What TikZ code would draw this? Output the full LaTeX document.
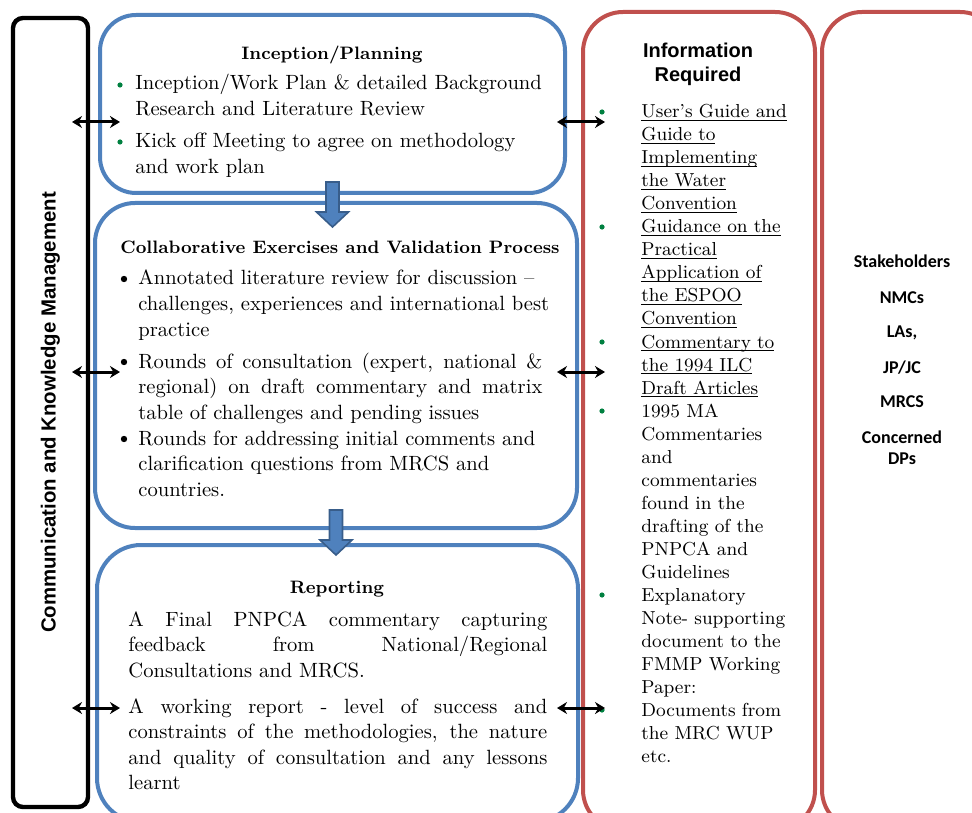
\documentclass[tikz,border=0pt]{standalone}
\usepackage{fontspec}
\usepackage{tikz}
\usetikzlibrary{arrows.meta, positioning, fit, calc}
\newfontfamily\headsans{Liberation Sans}
\newfontfamily\calsans{Carlito}
\definecolor{phaseblue}{RGB}{79,129,189}
\definecolor{arrowblue}{RGB}{56,93,138}
\definecolor{infored}{RGB}{192,80,77}
\definecolor{bulgreen}{RGB}{0,128,64}
\newcommand{\jline}[2][209.5pt]{{\spaceskip=0pt\xspaceskip=0pt\makebox[#1][s]{#2}}}
\newcommand{\uln}[1]{\underline{\smash{#1}}}
\tikzset{
    phasebox/.style={draw=phaseblue, line width=2pt, inner sep=0pt, outer sep=0pt},
    infobox/.style={draw=infored, line width=2pt, rounded corners=20pt, inner sep=0pt, outer sep=0pt},
    commbox/.style={draw=black, line width=2.2pt, rounded corners=5pt, inner sep=0pt, outer sep=0pt},
    phtitle/.style={font=\fontsize{9pt}{11pt}\selectfont\bfseries, inner sep=0pt, anchor=base},
    bodytext/.style={font=\fontsize{10.3pt}{12.8pt}\selectfont, inner sep=0pt, anchor=base west, align=left, text width=230pt},
    infotext/.style={font=\fontsize{9.4pt}{11.5pt}\selectfont, inner sep=0pt, anchor=base west, align=left, text width=90pt},
    gdot/.style={circle, fill=bulgreen, inner sep=0pt, minimum size=2.6pt},
    bdot/.style={circle, fill=black, inner sep=0pt, minimum size=3.2pt},
    dblarrow/.style={{Stealth[length=5pt,width=6pt]}-{Stealth[length=5pt,width=6pt]}, line width=1.5pt},
    blockarrow/.style={fill=phaseblue, draw=arrowblue, line width=0.8pt, line join=miter}
}
\begin{document}
\begin{tikzpicture}[x=0.5pt, y=-0.5pt]
    \clip (0,0) rectangle (972,812);

    % Side bar and right columns
    \node[commbox, fit={(13,18) (88,807)}] (comm) {};
    \node[rotate=90, inner sep=0pt, font=\headsans\bfseries\fontsize{10.2pt}{12pt}\selectfont] (commlabel) at (comm.center) {Communication and Knowledge Management};
    \node[infobox, fit={(583,12) (815,830)}] (info) {};
    \node[infobox, fit={(822,12) (1000,830)}] (stake) {};

    % Phase boxes
    \node[phasebox, rounded corners=18pt, fit={(100,15) (565,193)}] (inc) {};
    \node[phasebox, rounded corners=20pt, fit={(95,203) (577,528)}] (col) {};
    \node[phasebox, rounded corners=22pt, fit={(97,545) (578,822)}] (rep) {};

    % Inception/Planning
    \node[phtitle] (inctitle) at (332,60) {Inception/Planning};
    \node[gdot] (incdot1) at (120,85) {};
    \node[bodytext] (inc1) at (135,90) {Inception/Work Plan \& detailed Background\\Research and Literature Review};
    \node[gdot] (incdot2) at (120,142) {};
    \node[bodytext] (inc2) at (135,148) {Kick off Meeting to agree on methodology\\and work plan};

    % Collaborative Exercises
    \node[phtitle] (coltitle) at (340,254) {Collaborative Exercises and Validation Process};
    \node[bdot] (coldot1) at (124,279) {};
    \node[bodytext] (col1) at (138,285) {Annotated literature review for discussion --\\challenges, experiences and international best\\practice};
    \node[bdot] (coldot2) at (124,362) {};
    \node[bodytext] (col2) at (138,368) {\jline[202pt]{Rounds of consultation (expert, national \&}\\\jline[202pt]{regional) on draft commentary and matrix}\\table of challenges and pending issues};
    \node[bdot] (coldot3) at (124,439) {};
    \node[bodytext] (col3) at (138,445) {Rounds for addressing initial comments and\\clarification questions from MRCS and\\countries.};

    % Reporting
    \node[phtitle] (reptitle) at (337,593) {Reporting};
    \node[bodytext] (rep1) at (128,626) {\jline{A Final PNPCA commentary capturing}\\\jline{feedback from National/Regional}\\Consultations and MRCS.};
    \node[bodytext] (rep2) at (128,713) {\jline{A working report - level of success and}\\\jline{constraints of the methodologies, the nature}\\\jline{and quality of consultation and any lessons}\\learnt};

    % Information required
    \node[font=\headsans\bfseries\fontsize{10pt}{12pt}\selectfont, align=center, text width=120pt, anchor=base, inner sep=0pt] (infotitle) at (698,58) {Information\\Required};
    \foreach \n/\y in {1/118, 2/233, 3/348, 4/417, 5/601, 6/716}
        \node[gdot] (infodot\n) at (602,\y-6) {};
    \node[infotext] (info1) at (641,118) {\uln{User's Guide and}\\\uln{Guide to}\\\uln{Implementing}\\\uln{the Water}\\\uln{Convention}};
    \node[infotext] (info2) at (641,233) {\uln{Guidance on the}\\\uln{Practical}\\\uln{Application of}\\\uln{the ESPOO}\\\uln{Convention}};
    \node[infotext] (info3) at (641,348) {\uln{Commentary to}\\\uln{the 1994 ILC}\\\uln{Draft Articles}};
    \node[infotext] (info4) at (641,417) {1995 MA\\Commentaries\\and\\commentaries\\found in the\\drafting of the\\PNPCA and\\Guidelines};
    \node[infotext] (info5) at (641,601) {Explanatory\\Note- supporting\\document to the\\FMMP Working\\Paper:};
    \node[infotext] (info6) at (641,716) {Documents from\\the MRC WUP\\etc.};

    % Stakeholders
    \node[font=\calsans\bfseries\fontsize{9pt}{10.5pt}\selectfont, align=center, text width=80pt, anchor=base, inner sep=0pt] (stakelist) at (902,268) {Stakeholders\\[7pt]NMCs\\[7pt]LAs,\\[7pt]JP/JC\\[7pt]MRCS\\[7pt]Concerned\\DPs};

    % Flow between phases
    \coordinate (flowA) at ([yshift=5.5pt]inc.south);
    \coordinate (flowB) at ([yshift=9pt]col.south);
    \foreach \c in {flowA, flowB}
        \draw[blockarrow] (\c) ++(-6.5,0) -- ++(0,30) -- ++(-9.5,0) -- ++(16,15) -- ++(16,-15) -- ++(-9.5,0) -- ++(0,-30) -- cycle;

    % Links to communication bar and information column
    \foreach \b/\y in {inc/122, col/372, rep/708} {
        \draw[dblarrow] ([xshift=-8pt]comm.east |- 0,\y) -- ([xshift=10pt]inc.west |- 0,\y);
        \draw[dblarrow] ([xshift=-13pt]info.west |- 0,\y) -- ([xshift=11pt]info.west |- 0,\y);
    }

\end{tikzpicture}
\end{document}
